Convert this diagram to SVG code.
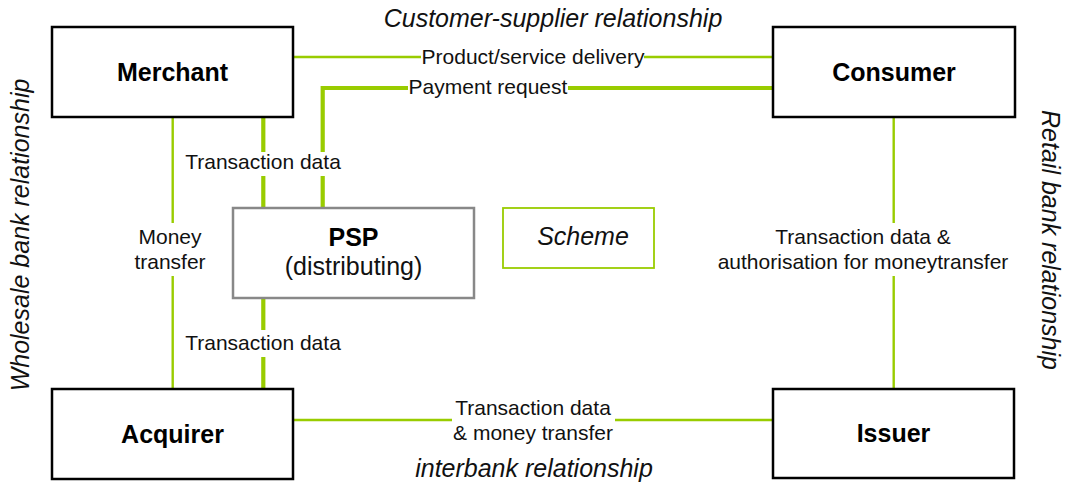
<svg xmlns="http://www.w3.org/2000/svg" width="1065" height="489" viewBox="0 0 1065 489">
<style>
.box{fill:#fff;stroke:#000;stroke-width:2.5}
.psp{fill:#fff;stroke:#888;stroke-width:2.5}
.sch{fill:#fff;stroke:#99cc00;stroke-width:1.8}
.thin{fill:none;stroke:#99cc00;stroke-width:2.4}
.thick{fill:none;stroke:#99cc00;stroke-width:4.2}
text{font-family:"Liberation Sans",Arial,sans-serif;fill:#000;text-anchor:middle}
.nl{font-size:25px;font-weight:bold}
.lb{font-size:21px;fill:#111}
.it{font-size:25px;font-style:italic;fill:#111}
.big{font-size:25px;fill:#111}
</style>
<rect width="1065" height="489" fill="#fff"/>
<g id="connectors">
<path class="thin" d="M293 57H421M644 57H773"/>
<path class="thick" d="M773 88H568M408 88H322.7V152M322.7 176V208"/>
<path class="thick" d="M263.3 117V152M263.3 176V208"/>
<path class="thick" d="M263.3 298V330M263.3 357V389"/>
<path class="thin" d="M172.7 117V223M172.7 276V389"/>
<path class="thin" d="M893.7 117V223M893.7 276V389"/>
<path class="thin" d="M293 420H452M615 420H773"/>
<text class="lb" x="533" y="64">Product/service delivery</text>
<text class="lb" x="488" y="94">Payment request</text>
<text class="lb" x="263" y="169">Transaction data</text>
<text class="lb" x="263" y="350">Transaction data</text>
<text class="lb" x="170" y="244">Money</text>
<text class="lb" x="170" y="269">transfer</text>
<text class="lb" x="863" y="244">Transaction data &amp;</text>
<text class="lb" x="863" y="269">authorisation for moneytransfer</text>
<text class="lb" x="533" y="415">Transaction data</text>
<text class="lb" x="533" y="440">&amp; money transfer</text>
</g>
<g id="merchant"><rect class="box" x="52" y="27" width="241" height="90"/><text class="nl" x="172.5" y="81">Merchant</text></g>
<g id="consumer"><rect class="box" x="773" y="27" width="242" height="90"/><text class="nl" x="894" y="81">Consumer</text></g>
<g id="acquirer"><rect class="box" x="52" y="389" width="241" height="90"/><text class="nl" x="172.5" y="443">Acquirer</text></g>
<g id="issuer"><rect class="box" x="773" y="389" width="241" height="89"/><text class="nl" x="893.5" y="442">Issuer</text></g>
<g id="psp"><rect class="psp" x="233" y="208" width="241" height="90"/><text class="nl" x="353.5" y="246">PSP</text><text class="big" x="353.5" y="275">(distributing)</text></g>
<g id="scheme"><rect class="sch" x="503" y="208" width="151" height="60"/><text class="it" x="583" y="245">Scheme</text></g>
<g id="relationship-labels">
<text class="it" x="553" y="27">Customer-supplier relationship</text>
<text class="it" x="534" y="477">interbank relationship</text>
<text class="it" transform="translate(29 235) rotate(-90)">Wholesale bank relationship</text>
<text class="it" transform="translate(1042 240) rotate(90)">Retail bank relationship</text>
</g>
</svg>
